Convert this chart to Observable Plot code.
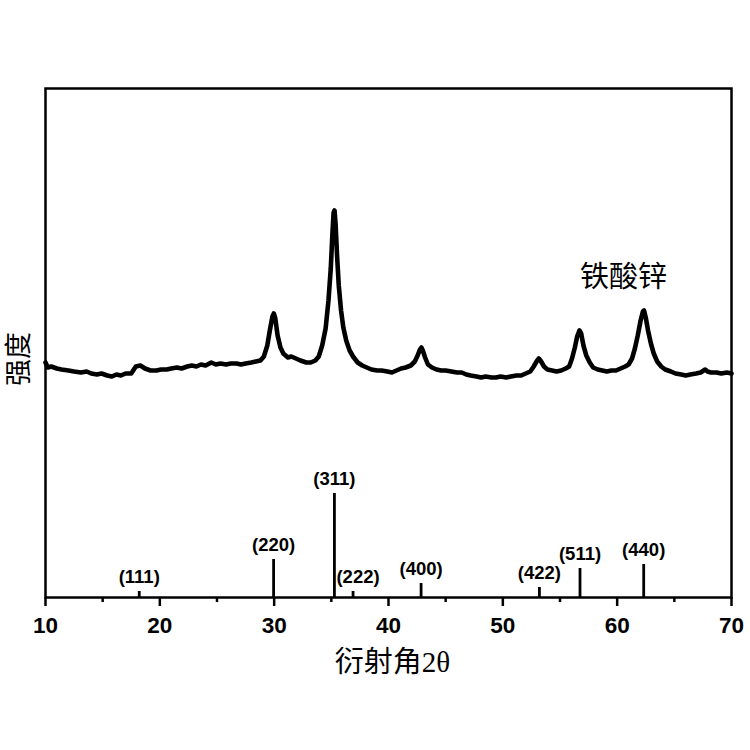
<!DOCTYPE html>
<html>
<head>
<meta charset="utf-8">
<script src="https://cdn.jsdelivr.net/npm/d3@7"></script>
<script src="https://cdn.jsdelivr.net/npm/@observablehq/plot@0.6"></script>
<style>
  html, body { margin: 0; padding: 0; background: #fff; }
  #chart { width: 750px; height: 750px; }
</style>
</head>
<body>
<div id="chart"></div>
<script>
// XRD pattern of zinc ferrite (2θ in degrees, intensity in a.u.)
const twoTheta = [
  10.0, 10.2, 10.5, 11.0, 11.4, 12.0, 12.5, 13.1, 13.6, 14.0, 14.5, 14.9, 15.4, 15.8, 16.2, 16.6,
  17.0, 17.5, 17.9, 18.3, 18.7, 19.2, 19.7, 20.1, 20.6, 21.0, 21.5, 21.9, 22.4, 22.8, 23.2, 23.6,
  24.0, 24.5, 24.9, 25.3, 25.8, 26.2, 26.7, 27.1, 27.5, 28.0, 28.4, 28.8, 29.1, 29.4, 29.65, 29.85,
  29.97, 30.1, 30.3, 30.55, 30.8, 31.2, 31.5, 31.9, 32.3, 32.8, 33.2, 33.6, 33.9, 34.2, 34.5, 34.75,
  34.95, 35.1, 35.2, 35.28, 35.38, 35.5, 35.65, 35.85, 36.05, 36.3, 36.6, 36.9, 37.3, 37.7, 38.1, 38.5,
  39.0, 39.4, 39.9, 40.3, 40.7, 41.1, 41.5, 41.95, 42.3, 42.55, 42.75, 42.88, 43.0, 43.2, 43.45, 43.8,
  44.2, 44.6, 45.0, 45.5, 46.0, 46.4, 46.8, 47.2, 47.7, 48.1, 48.5, 49.0, 49.4, 49.8, 50.3, 50.7,
  51.2, 51.6, 52.0, 52.4, 52.7, 52.95, 53.15, 53.35, 53.6, 53.9, 54.3, 54.7, 55.1, 55.5, 55.8, 56.05,
  56.3, 56.5, 56.7, 56.85, 57.05, 57.3, 57.6, 57.9, 58.3, 58.7, 59.1, 59.5, 59.9, 60.3, 60.7, 61.0,
  61.3, 61.55, 61.8, 62.05, 62.25, 62.35, 62.5, 62.7, 62.95, 63.2, 63.5, 63.85, 64.2, 64.7, 65.1, 65.6,
  66.0, 66.4, 66.9, 67.3, 67.7, 67.9, 68.2, 68.7, 69.1, 69.6, 70.0
];
const intensity = [
  235, 230, 231, 229, 228, 227, 226, 225, 226, 224, 223, 224, 222, 221, 223, 222,
  224, 224, 231, 232, 229, 227, 227, 228, 228, 229, 230, 229, 231, 232, 231, 233,
  232, 235, 233, 234, 233, 234, 234, 233, 234, 235, 236, 237, 241, 252, 269, 281,
  284, 279, 262, 250, 244, 240, 241, 239, 237, 235, 235, 237, 241, 252, 269, 297,
  329, 365, 385, 387, 372, 342, 312, 287, 270, 257, 247, 241, 235, 232, 230, 228,
  227, 227, 226, 225, 227, 229, 230, 232, 236, 242, 248, 250, 247, 240, 233, 230,
  228, 227, 227, 226, 225, 225, 223, 222, 221, 220, 221, 220, 220, 221, 220, 221,
  222, 222, 224, 226, 231, 236, 239, 236, 231, 228, 227, 226, 227, 229, 231, 239,
  250, 261, 267, 264, 252, 242, 235, 230, 228, 227, 226, 227, 227, 229, 231, 233,
  239, 249, 262, 277, 286, 287, 280, 267, 254, 244, 236, 231, 228, 226, 224, 223,
  222, 223, 224, 225, 228, 226, 225, 225, 224, 225, 224
];

// Standard reference lines (ZnFe2O4)
const refHKL = ["(111)", "(220)", "(311)", "(222)", "(400)", "(422)", "(511)", "(440)"];
const refAngle = [18.2, 29.95, 35.27, 36.9, 42.85, 53.2, 56.75, 62.32];
const refHeight = [6, 38, 104, 6, 14, 10, 29, 33];

const xTicks = [10, 20, 30, 40, 50, 60, 70];
const xMinorTicks = [15, 25, 35, 45, 55, 65];

const pattern = twoTheta.map((t, i) => ({t, v: intensity[i]}));
const refs = refHKL.map((h, i) => ({hkl: h, t: refAngle[i], h: refHeight[i]}));

const cjk = "'Liberation Serif', 'Noto Sans CJK SC', serif";
const sans = "'Liberation Sans', Arial, sans-serif";

const chart = Plot.plot({
  width: 750,
  height: 750,
  marginLeft: 45,
  marginRight: 19,
  marginTop: 88,
  marginBottom: 153,
  style: {background: "#fff", color: "#000"},
  x: {domain: [10, 70]},
  y: {domain: [0, 509], axis: null},
  marks: [
    Plot.frame({stroke: "#000", strokeWidth: 2.5}),
    Plot.axisX({
      ticks: xTicks, tickSize: 9, tickPadding: 11, strokeWidth: 2.5, label: null,
      fontSize: 22.5, fontWeight: "bold", fontFamily: sans
    }),
    Plot.axisX({ticks: xMinorTicks, tickSize: 5, strokeWidth: 2.5, text: null, label: null}),
    Plot.line(pattern, {x: "t", y: "v", stroke: "#000", strokeWidth: 4.6, strokeLinejoin: "round"}),
    Plot.ruleX(refs, {x: "t", y1: 0, y2: "h", stroke: "#000", strokeWidth: 2.8}),
    Plot.text(refs.filter(d => d.hkl !== "(222)"), {
      x: "t", y: "h", text: "hkl", dy: -14, fontSize: 18.5, fontWeight: "bold", fontFamily: sans
    }),
    Plot.text(refs.filter(d => d.hkl === "(222)"), {
      x: "t", y: "h", text: "hkl", dx: 5, dy: -14, fontSize: 18.5, fontWeight: "bold", fontFamily: sans
    }),
    Plot.text(["铁酸锌"], {frameAnchor: "top", dx: 235, dy: 178, fontSize: 29, fontFamily: cjk}),
    Plot.text(["衍射角2θ"], {frameAnchor: "bottom", dx: 4, dy: 74, fontSize: 29, fontFamily: cjk}),
    Plot.text(["强度"], {frameAnchor: "left", dx: -26, dy: 43, rotate: -90, fontSize: 27, fontFamily: cjk})
  ]
});
document.getElementById("chart").appendChild(chart);
</script>
</body>
</html>
